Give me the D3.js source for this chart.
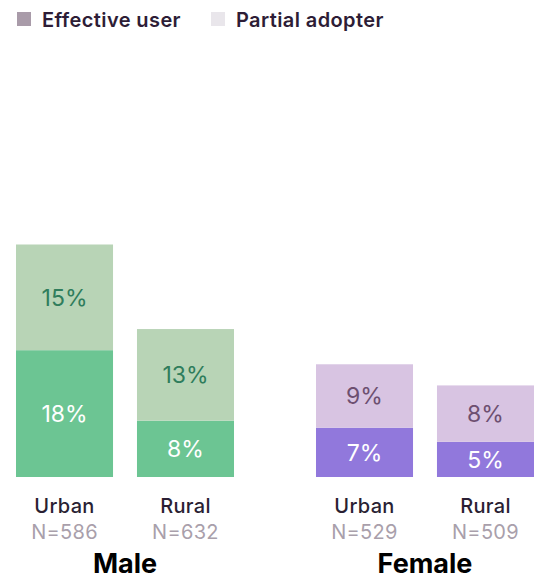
<!DOCTYPE html>
<html>
<head>
<meta charset="utf-8">
<script src="https://cdn.jsdelivr.net/npm/d3@7"></script>
<style>
  html, body { margin: 0; padding: 0; background: #ffffff; }
  svg { display: block; font-family: Inter, "Noto Sans", sans-serif; }
</style>
</head>
<body>
<svg id="chart" width="540" height="579"></svg>
<script>
// Share of respondents by gender and location
const groups = ["Male", "Female"];
const locations = ["Urban", "Rural"];
const sampleSizes = [[586, 632], [529, 509]];
const effectiveUser = [[18, 8], [7, 5]];
const partialAdopter = [[15, 13], [9, 8]];
const seriesNames = ["Effective user", "Partial adopter"];

const palette = {
  Male:   { effective: "#6cc593", partial: "#b8d4b6", partialText: "#2f7d5c" },
  Female: { effective: "#9178dc", partial: "#d8c4e2", partialText: "#6d4f70" }
};
const legendColors = ["#a99ba9", "#e9e6eb"];

const svg = d3.select("#chart");

// Legend
const legendX = [17, 211];
const legend = svg.append("g");
seriesNames.forEach((name, i) => {
  legend.append("rect")
    .attr("x", legendX[i]).attr("y", 12)
    .attr("width", 14).attr("height", 14)
    .attr("fill", legendColors[i]);
  legend.append("text")
    .attr("x", legendX[i] + 25).attr("y", 27)
    .attr("font-size", 20).attr("font-weight", 600)
    .attr("letter-spacing", 0.4)
    .attr("fill", "#2d1d36")
    .text(name);
});

// Scales
const y = d3.scaleLinear().domain([0, 33]).range([477, 244.5]);
const groupX = d3.scaleBand().domain(groups).range([16, 534]).paddingInner(0.2733);
const barX = d3.scaleBand().domain(locations).range([0, groupX.bandwidth()]).paddingInner(0.198);

groups.forEach((g, gi) => {
  const col = palette[g];
  const gEl = svg.append("g").attr("transform", `translate(${groupX(g)},0)`);
  locations.forEach((loc, li) => {
    const eff = effectiveUser[gi][li];
    const par = partialAdopter[gi][li];
    const x0 = barX(loc);
    const w = barX.bandwidth();
    const cx = x0 + w / 2;

    gEl.append("rect")
      .attr("x", x0).attr("width", w)
      .attr("y", y(eff)).attr("height", y(0) - y(eff))
      .attr("fill", col.effective);
    gEl.append("rect")
      .attr("x", x0).attr("width", w)
      .attr("y", y(eff + par)).attr("height", y(eff) - y(eff + par))
      .attr("fill", col.partial);

    gEl.append("text")
      .attr("x", cx).attr("y", (y(0) + y(eff)) / 2)
      .attr("dy", "0.36em").attr("text-anchor", "middle")
      .attr("font-size", 23).attr("fill", "#ffffff")
      .text(eff + "%");
    gEl.append("text")
      .attr("x", cx).attr("y", (y(eff) + y(eff + par)) / 2)
      .attr("dy", "0.36em").attr("text-anchor", "middle")
      .attr("font-size", 23).attr("fill", col.partialText)
      .text(par + "%");

    gEl.append("text")
      .attr("x", cx).attr("y", 513)
      .attr("text-anchor", "middle")
      .attr("font-size", 20).attr("font-weight", 500)
      .attr("letter-spacing", 0.3)
      .attr("fill", "#2a1f33")
      .text(loc);
    gEl.append("text")
      .attr("x", cx).attr("y", 539)
      .attr("text-anchor", "middle")
      .attr("font-size", 20).attr("letter-spacing", 0.3)
      .attr("fill", "#a99fab")
      .text("N=" + sampleSizes[gi][li]);
  });

  gEl.append("text")
    .attr("x", groupX.bandwidth() / 2).attr("y", 573)
    .attr("text-anchor", "middle")
    .attr("font-size", 27).attr("font-weight", 700)
    .attr("fill", "#000000")
    .text(g);
});
</script>
</body>
</html>
